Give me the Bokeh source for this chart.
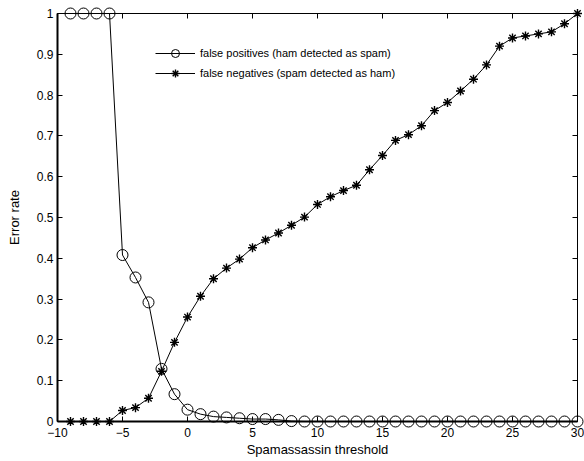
from bokeh.plotting import figure
from bokeh.models import (Range1d, LinearAxis, FixedTicker, CustomJSTickFormatter,
                          Legend, LegendItem)
from bokeh.embed import file_html
from bokeh.resources import INLINE

# ---- data ----
threshold = [-9, -8, -7, -6, -5, -4, -3, -2, -1, 0, 1, 2, 3, 4, 5, 6, 7, 8, 9, 10,
             11, 12, 13, 14, 15, 16, 17, 18, 19, 20, 21, 22, 23, 24, 25, 26, 27, 28, 29, 30]
false_pos = [1.0, 1.0, 1.0, 1.0, 0.408, 0.353, 0.292, 0.129, 0.067, 0.029,
             0.018, 0.012, 0.010, 0.008, 0.006, 0.006, 0.004, 0.001, 0.0, 0.0,
             0.0, 0.0, 0.0, 0.0, 0.0, 0.0, 0.0, 0.0, 0.0, 0.0,
             0.0, 0.0, 0.0, 0.0, 0.0, 0.0, 0.0, 0.0, 0.0, 0.0]
false_neg = [0.0, 0.0, 0.0, 0.0, 0.027, 0.034, 0.057, 0.123, 0.194, 0.256,
             0.307, 0.350, 0.376, 0.398, 0.426, 0.445, 0.462, 0.481, 0.501, 0.532,
             0.551, 0.566, 0.579, 0.617, 0.652, 0.689, 0.703, 0.725, 0.762, 0.782,
             0.810, 0.839, 0.874, 0.920, 0.940, 0.945, 0.950, 0.955, 0.975, 1.0]
x_ticks = [-10, -5, 0, 5, 10, 15, 20, 25, 30]
y_ticks = [0, 0.1, 0.2, 0.3, 0.4, 0.5, 0.6, 0.7, 0.8, 0.9, 1.0]
label_fp = "false positives (ham detected as spam)"
label_fn = "false negatives (spam detected as ham)"

FONT = "Liberation Sans"

p = figure(width=584, height=461, output_backend="svg", toolbar_location=None,
           x_range=Range1d(-10, 30), y_range=Range1d(0, 1),
           min_border_left=57, min_border_right=7, min_border_top=13, min_border_bottom=40,
           background_fill_color="white", border_fill_color="white")
p.grid.visible = False
p.outline_line_color = "black"
p.outline_line_width = 1

xfmt = CustomJSTickFormatter(code="return tick < 0 ? '\\u2212' + Math.abs(tick) : String(tick);")
yfmt = CustomJSTickFormatter(code="return String(Math.round(tick*10)/10);")
blank = CustomJSTickFormatter(code="return '';")

for ax in p.xaxis:
    ax.ticker = FixedTicker(ticks=x_ticks)
    ax.formatter = xfmt
for ax in p.yaxis:
    ax.ticker = FixedTicker(ticks=y_ticks)
    ax.formatter = yfmt

for ax in list(p.xaxis) + list(p.yaxis):
    ax.major_tick_in = 5
    ax.major_tick_out = 0
    ax.minor_tick_line_color = None
    ax.axis_line_width = 2
    ax.major_tick_line_color = "black"
    ax.major_label_text_font = FONT
    ax.major_label_text_font_size = "12px"
    ax.major_label_text_color = "black"
    ax.axis_label_text_font = FONT
    ax.axis_label_text_font_size = "13px"
    ax.axis_label_text_font_style = "normal"
    ax.axis_label_text_color = "black"

p.xaxis.axis_label = "Spamassassin threshold"
p.yaxis.axis_label = "Error rate"
p.xaxis.major_label_standoff = 6
p.xaxis.axis_label_standoff = 2
p.yaxis.major_label_standoff = 4
p.yaxis.axis_label_standoff = 12

top = LinearAxis(ticker=FixedTicker(ticks=x_ticks), formatter=blank,
                 major_tick_in=5, major_tick_out=0,
                 minor_tick_line_color=None, axis_line_color=None,
                 major_label_text_color=None, major_label_standoff=0)
right = LinearAxis(ticker=FixedTicker(ticks=y_ticks), formatter=blank,
                   major_tick_in=5, major_tick_out=0,
                   minor_tick_line_color=None, axis_line_color=None,
                   major_label_text_color=None, major_label_standoff=0)
p.add_layout(top, "above")
p.add_layout(right, "right")

l1 = p.line(threshold, false_pos, line_color="black", line_width=1)
s1 = p.scatter(threshold, false_pos, marker="circle", size=11, fill_color=None,
               line_color="black", line_width=1, level="overlay")
l2 = p.line(threshold, false_neg, line_color="black", line_width=1)
s2 = p.scatter(threshold, false_neg, marker="asterisk", size=9,
               line_color="black", line_width=1.4, level="overlay")

legend = Legend(items=[LegendItem(label=label_fp, renderers=[l1, s1]),
                       LegendItem(label=label_fn, renderers=[l2, s2])],
                location=(98, 338), padding=0, spacing=0, margin=0,
                glyph_width=40, glyph_height=20, label_height=20, label_standoff=5,
                border_line_color=None, background_fill_alpha=0,
                label_text_font=FONT, label_text_font_size="11px", label_text_color="black")
p.add_layout(legend, "center")

open("out.html", "w").write(file_html(p, INLINE))
